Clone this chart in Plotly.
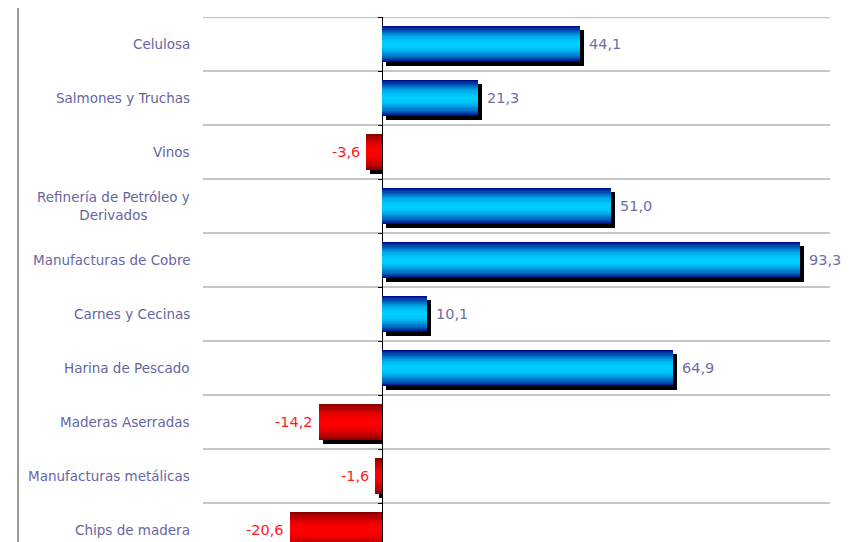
import plotly.graph_objects as go

categories = ["Celulosa", "Salmones y Truchas", "Vinos",
              "Refinería de Petróleo y<br>Derivados", "Manufacturas de Cobre",
              "Carnes y Cecinas", "Harina de Pescado", "Maderas Aserradas",
              "Manufacturas metálicas", "Chips de madera"]
values = [44.1, 21.3, -3.6, 51.0, 93.3, 10.1, 64.9, -14.2, -1.6, -20.6]
value_labels = ["44,1", "21,3", "-3,6", "51,0", "93,3", "10,1", "64,9", "-14,2", "-1,6", "-20,6"]

FONT = "DejaVu Sans"
TXT = "#6666a4"
VAL_TXT = "#6e6eaa"
BAR_W = 0.67
N_LAYERS = 16
SHADOW_DX = 0.9
SHADOW_DY = 4 / 54

idx = list(range(len(categories)))

def lerp(c1, c2, t):
    return "rgb(%d,%d,%d)" % tuple(round(a + (b - a) * t) for a, b in zip(c1, c2))

BLUE_C, BLUE_E = (0, 206, 255), (0, 0, 128)
RED_C, RED_E = (255, 0, 0), (128, 0, 0)

fig = go.Figure()

# shadow
sh_base = [(SHADOW_DX if v > 0 else v + SHADOW_DX) for v in values]
sh_len = [(v if v > 0 else -v - SHADOW_DX) for v in values]
fig.add_trace(go.Bar(y=idx, x=sh_len, base=sh_base, orientation="h",
                     width=BAR_W, offset=-BAR_W / 2 + SHADOW_DY,
                     marker=dict(color="black", line=dict(width=0)),
                     hoverinfo="skip", showlegend=False))

# gradient layers
for i in range(N_LAYERS):
    h = 1 - i / N_LAYERS
    d = h - 0.5 / N_LAYERS
    t = d ** 1.9
    cols = [lerp(BLUE_C, BLUE_E, t) if v > 0 else lerp(RED_C, RED_E, t) for v in values]
    fig.add_trace(go.Bar(y=idx, x=values, orientation="h", width=BAR_W * h,
                         offset=-BAR_W * h / 2,
                         marker=dict(color=cols, line=dict(width=0)),
                         hoverinfo="skip", showlegend=False))

# dummy trace for tick axis at zero
fig.add_trace(go.Scatter(x=[None], y=[None], yaxis="y2", showlegend=False))

annotations = []
for i, (c, v, lab) in enumerate(zip(categories, values, value_labels)):
    annotations.append(dict(x=0, xref="paper", y=i, yref="y", text=c,
                            xanchor="right", xshift=-11, align="center",
                            showarrow=False, font=dict(family=FONT, size=13.5, color=TXT)))
    if v > 0:
        annotations.append(dict(x=v, y=i, xref="x", yref="y", text=lab, xanchor="left",
                                xshift=7, showarrow=False,
                                font=dict(family=FONT, size=14.5, color=VAL_TXT)))
    else:
        annotations.append(dict(x=v, y=i, xref="x", yref="y", text=lab, xanchor="right",
                                xshift=-4, showarrow=False,
                                font=dict(family=FONT, size=14.5, color="#ff1a1a")))

n = len(categories)
yrange = [n - 0.5 - 0.278, -0.505]
boundaries = [k - 0.5 for k in range(n + 1)]

# page body has an 8px margin: figure sized to fill the remaining window
fig.update_layout(
    width=855, height=534,
    margin=dict(l=195, r=33, t=9, b=0, autoexpand=False),
    paper_bgcolor="white", plot_bgcolor="white",
    barmode="overlay", bargap=0,
    showlegend=False,
    annotations=annotations,
    xaxis=dict(range=[-40, 100], showgrid=False, showticklabels=False, ticks="",
               zeroline=True, zerolinecolor="black", zerolinewidth=1, fixedrange=True),
    yaxis=dict(range=yrange, tickvals=boundaries, showticklabels=False, ticks="",
               showgrid=True, gridcolor="#c6c6c6", gridwidth=2, zeroline=False),
    yaxis2=dict(range=yrange, overlaying="y", anchor="free", position=40 / 140,
                tickvals=boundaries, showticklabels=False, ticks="outside",
                ticklen=4, tickcolor="black", showgrid=False, zeroline=False,
                showline=False),
    shapes=[dict(type="line", xref="paper", yref="paper", x0=-0.295, x1=-0.295,
                 y0=0, y1=1.2, line=dict(color="#999999", width=2)),
            dict(type="line", xref="paper", yref="y", x0=0, x1=1,
                 y0=boundaries[0], y1=boundaries[0], layer="below",
                 line=dict(color="#c6c6c6", width=2))],
)

fig.write_html("out.html")
